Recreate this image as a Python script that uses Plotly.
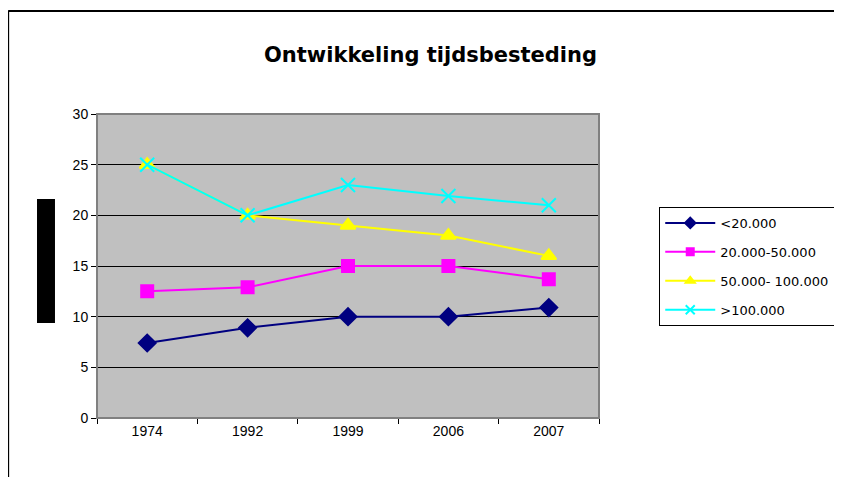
import plotly.graph_objects as go

# Data
jaren = ['1974', '1992', '1999', '2006', '2007']
inkomen_20 = [7.4, 8.9, 10.0, 10.0, 10.9]
inkomen_20_50 = [12.5, 12.9, 15.0, 15.0, 13.7]
inkomen_50_100 = [25.0, 20.0, 19.0, 18.0, 16.0]
inkomen_100 = [25.0, 20.0, 23.0, 21.9, 21.0]

series = [
    ('<20.000', inkomen_20, '#000080', 'diamond', 13, 8),
    ('20.000-50.000', inkomen_20_50, '#FF00FF', 'square', 12, 7),
    ('50.000- 100.000', inkomen_50_100, '#FFFF00', 'triangle-up', 13, 8),
    ('>100.000', inkomen_100, '#00FFFF', 'x-thin-open', 14, 9),
]

fig = go.Figure()

for i, (name, vals, col, sym, size, leg_size) in enumerate(series):
    fig.add_trace(
        go.Scatter(x=jaren, y=vals, name=name,
                   legendgroup='g{}'.format(i),
                   showlegend=False,
                   mode='lines+markers',
                   line={'color': col, 'width': 2},
                   marker={'symbol': sym, 'size': size, 'color': col,
                           'line': {'color': col, 'width': 2}},
                   )
    )
    # legend entry with smaller symbol (as in the Excel legend)
    fig.add_trace(
        go.Scatter(x=[None], y=[None], name=name,
                   legendgroup='g{}'.format(i),
                   mode='lines+markers',
                   line={'color': col, 'width': 2},
                   marker={'symbol': sym, 'size': leg_size, 'color': col,
                           'line': {'color': col, 'width': 2}},
                   )
    )

# Shapes: outer frame (left + top), plot border, redaction block
list_shapes = [
    {'type': 'line', 'xref': 'paper', 'yref': 'paper',
     'x0': -0.177, 'x1': -0.177, 'y0': -0.3, 'y1': 1.339,
     'line': {'color': 'black', 'width': 2}},
    {'type': 'line', 'xref': 'paper', 'yref': 'paper',
     'x0': -0.177, 'x1': 1.6, 'y0': 1.339, 'y1': 1.339,
     'line': {'color': 'black', 'width': 2}},
    {'type': 'rect', 'xref': 'paper', 'yref': 'paper',
     'x0': 0, 'x1': 1, 'y0': 0, 'y1': 1,
     'line': {'color': '#808080', 'width': 2}},
    {'type': 'rect', 'xref': 'paper', 'yref': 'paper',
     'x0': -0.1195, 'x1': -0.0837, 'y0': 0.3125, 'y1': 0.720,
     'fillcolor': 'black', 'line_width': 0},
]
fig['layout'].update(shapes=list_shapes)

fig.add_annotation(x=0.665, y=1.24, xref='paper', yref='paper',
                   text='<b>Ontwikkeling tijdsbesteding</b>',
                   showarrow=False,
                   font={'size': 21, 'color': 'black', 'family': 'DejaVu Sans'})

fig.update_xaxes(type='category',
                 range=[-0.5, 4.5],
                 tickson='boundaries',
                 ticks='outside', ticklen=5, tickcolor='black',
                 showline=True, linecolor='black', linewidth=1,
                 showgrid=False,
                 tickfont={'size': 14, 'color': 'black'})

fig.update_yaxes(range=[0, 30], dtick=5,
                 ticks='outside', ticklen=5, tickcolor='black',
                 showline=True, linecolor='#808080', linewidth=1,
                 showgrid=True, gridcolor='black', gridwidth=1,
                 zeroline=False,
                 tickfont={'size': 14, 'color': 'black'})

# body of the page has an 8px margin, so shift everything up/left by 8;
# the figure is wider than the window so the legend can run off the right edge
fig.update_layout(width=880, height=469,
                  margin={'l': 89, 'r': 289, 't': 106, 'b': 59},
                  font={'family': 'Liberation Sans', 'size': 14, 'color': 'black'},
                  paper_bgcolor='white',
                  plot_bgcolor='#C0C0C0',
                  legend={'x': 1.12, 'y': 0.694, 'xanchor': 'left', 'yanchor': 'top',
                          'bordercolor': 'black', 'borderwidth': 1,
                          'bgcolor': 'white',
                          'font': {'size': 13, 'family': 'DejaVu Sans'},
                          'itemwidth': 50,
                          'tracegroupgap': 9},
                  )

fig.write_html('out.html')
